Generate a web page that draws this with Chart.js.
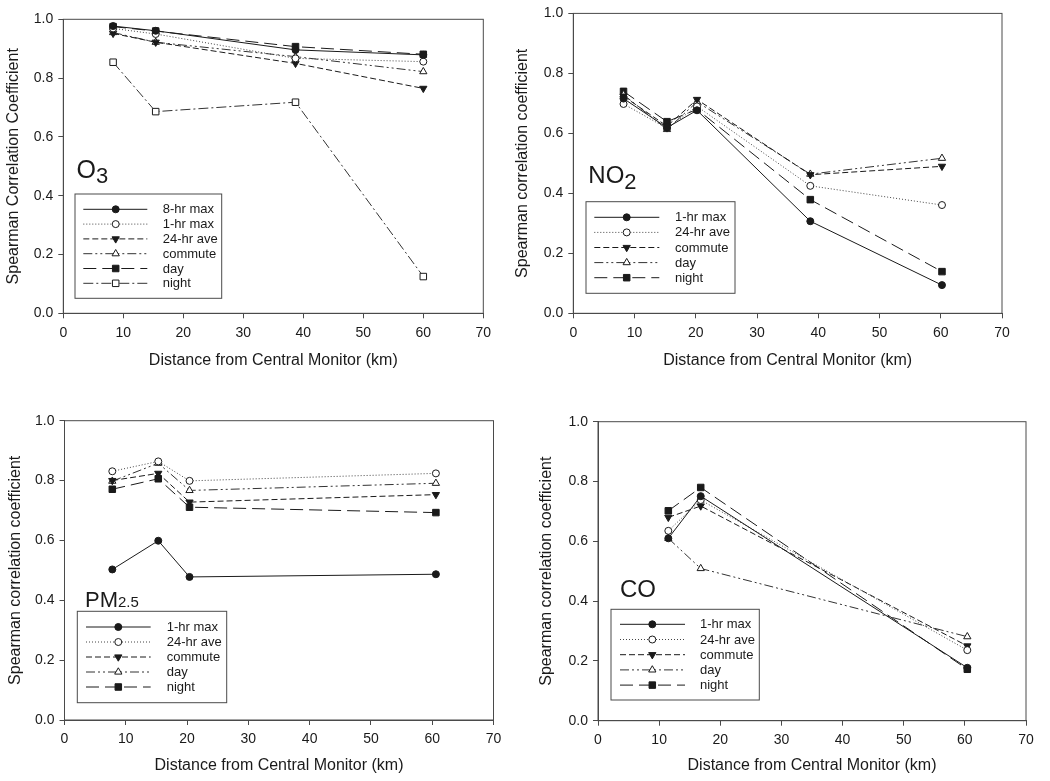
<!DOCTYPE html>
<html>
<head>
<meta charset="utf-8">
<title>Spearman correlation vs distance</title>
<script src="https://cdn.jsdelivr.net/npm/chart.js@4.4.1/dist/chart.umd.min.js"></script>
<style>
    body { margin: 0; background: #fff; width: 1050px; height: 781px; position: relative; overflow: hidden; }
    canvas { position: absolute; }
</style>
</head>
<body>
<canvas id="o3Chart" width="525" height="390" style="left:0;top:0;width:525px;height:390px"></canvas>
<canvas id="no2Chart" width="550" height="390" style="left:500px;top:0;width:550px;height:390px"></canvas>
<canvas id="pmChart" width="525" height="391" style="left:0;top:390px;width:525px;height:391px"></canvas>
<canvas id="coChart" width="550" height="391" style="left:500px;top:390px;width:550px;height:391px"></canvas>
<script>
// --- data (distance in km, Spearman r) ---
const o3Distance = [8.3, 15.4, 38.7, 60.0];
const o3Max8h    = [0.977, 0.961, 0.896, 0.879];
const o3Max1h    = [0.969, 0.950, 0.867, 0.856];
const o3Ave24h   = [0.952, 0.922, 0.850, 0.765];
const o3Commute  = [0.955, 0.922, 0.873, 0.822];
const o3Day      = [0.975, 0.960, 0.907, 0.881];
const o3Night    = [0.854, 0.686, 0.718, 0.125];

const no2Distance = [8.2, 15.3, 20.2, 38.7, 60.2];
const no2Max1h    = [0.716, 0.619, 0.677, 0.307, 0.094];
const no2Ave24h   = [0.698, 0.617, 0.690, 0.425, 0.361];
const no2Commute  = [0.724, 0.624, 0.713, 0.462, 0.490];
const no2Day      = [0.729, 0.613, 0.705, 0.464, 0.517];
const no2Night    = [0.740, 0.639, 0.680, 0.379, 0.139];

const pmDistance = [7.8, 15.3, 20.4, 60.6];
const pmMax1h    = [0.503, 0.599, 0.478, 0.487];
const pmAve24h   = [0.831, 0.864, 0.799, 0.824];
const pmCommute  = [0.800, 0.824, 0.728, 0.753];
const pmDay      = [0.798, 0.858, 0.767, 0.791];
const pmNight    = [0.771, 0.806, 0.711, 0.693];

const coDistance = [11.5, 16.8, 60.4];
const coMax1h    = [0.610, 0.751, 0.177];
const coAve24h   = [0.635, 0.738, 0.236];
const coCommute  = [0.680, 0.718, 0.250];
const coDay      = [0.610, 0.509, 0.281];
const coNight    = [0.702, 0.780, 0.172];

const xTicks = [0, 10, 20, 30, 40, 50, 60, 70];
const yTicks = [0.0, 0.2, 0.4, 0.6, 0.8, 1.0];

const INK = '#1a1a1a';
const FRAME = '#4a4a4a';
const FONT = "'Liberation Sans', Arial, sans-serif";

Chart.defaults.font.family = FONT;
Chart.defaults.color = INK;

// line + marker styles used in the figure
const styles = {
    solidDot:    { dash: [],                  point: 'circle',   rot: 0,   filled: true,  r: 3.5, color: INK },
    dottedRing:  { dash: [1, 2],              point: 'circle',   rot: 0,   filled: false, r: 3.5, color: '#444' },
    dashDown:    { dash: [6, 3],              point: 'triangle', rot: 180, filled: true,  r: 4.2, color: INK },
    dashDotDot:  { dash: [9, 3, 2, 3, 2, 3],  point: 'triangle', rot: 0,   filled: false, r: 4.2, color: '#333' },
    longDashSq:  { dash: [13, 6],             point: 'rect',     rot: 0,   filled: true,  r: 4.6, color: INK },
    dashDotSq:   { dash: [10, 3, 2, 3],       point: 'rect',     rot: 0,   filled: false, r: 4.6, color: '#333' }
};

function drawMarker(ctx, st, x, y) {
    ctx.save();
    ctx.setLineDash([]);
    ctx.lineWidth = 1;
    ctx.strokeStyle = INK;
    ctx.fillStyle = st.filled ? INK : '#fff';
    ctx.beginPath();
    if (st.point === 'circle') {
        ctx.arc(x, y, st.r, 0, Math.PI * 2);
    } else if (st.point === 'rect') {
        const s = st.r * Math.SQRT1_2;
        ctx.rect(x - s, y - s, 2 * s, 2 * s);
    } else {
        let a = st.rot * Math.PI / 180;
        ctx.moveTo(x + Math.sin(a) * st.r, y - Math.cos(a) * st.r);
        for (let k = 0; k < 2; k++) {
            a += Math.PI * 2 / 3;
            ctx.lineTo(x + Math.sin(a) * st.r, y - Math.cos(a) * st.r);
        }
        ctx.closePath();
    }
    ctx.fill();
    ctx.stroke();
    ctx.restore();
}

function makeDataset(label, xs, ys, st) {
    return {
        label: label,
        data: xs.map((x, i) => ({ x: x, y: ys[i] })),
        borderColor: st.color,
        borderWidth: 1,
        borderDash: st.dash,
        pointStyle: st.point,
        pointRotation: st.rot,
        pointRadius: st.r,
        pointBorderWidth: 1,
        pointBorderColor: INK,
        pointBackgroundColor: st.filled ? INK : '#fff',
        tension: 0,
        fill: false,
        _st: st
    };
}

function makePanel(p) {
    const ctx = document.getElementById(p.id);
    const datasets = p.series.map(s => makeDataset(s[0], p.xs, s[1], s[2]));

    const decorations = {
        id: 'decor_' + p.id,
        afterDatasetsDraw(chart) {
            const c = chart.ctx;
            const a = chart.chartArea;
            // frame
            c.save();
            c.strokeStyle = FRAME;
            c.lineWidth = 1;
            c.strokeRect(a.left, a.top, a.right - a.left, a.bottom - a.top);

            // pollutant name
            let nx = p.nameAt[0];
            c.fillStyle = INK;
            c.textBaseline = 'alphabetic';
            p.name.forEach(part => {
                c.font = part[1] + 'px ' + FONT;
                c.fillText(part[0], nx, p.nameAt[1] + part[2]);
                nx += c.measureText(part[0]).width;
            });

            // legend box
            const L = p.legend;
            c.fillStyle = '#fff';
            c.fillRect(L.box[0], L.box[1], L.box[2] - L.box[0], L.box[3] - L.box[1]);
            c.strokeStyle = FRAME;
            c.strokeRect(L.box[0], L.box[1], L.box[2] - L.box[0], L.box[3] - L.box[1]);
            c.font = '13px ' + FONT;
            c.textBaseline = 'middle';
            chart.data.datasets.forEach((ds, i) => {
                const y = L.row0 + i * L.step;
                const st = ds._st;
                c.save();
                c.strokeStyle = st.color;
                c.lineWidth = 1;
                c.setLineDash(st.dash);
                c.beginPath();
                c.moveTo(L.sample[0], y);
                c.lineTo(L.sample[1], y);
                c.stroke();
                c.restore();
                drawMarker(c, st, L.marker, y);
                c.fillStyle = INK;
                c.fillText(ds.label, L.text, y + 0.5);
            });
            c.restore();
        }
    };

    new Chart(ctx, {
        type: 'line',
        data: { datasets: datasets },
        options: {
            responsive: false,
            animation: false,
            events: [],
            layout: {
                padding: { left: 0, top: p.area.t, right: p.w - p.area.r, bottom: 0 }
            },
            plugins: {
                legend: { display: false },
                tooltip: { enabled: false }
            },
            scales: {
                x: {
                    type: 'linear',
                    min: xTicks[0],
                    max: xTicks[xTicks.length - 1],
                    afterBuildTicks: s => { s.ticks = xTicks.map(v => ({ value: v })); },
                    afterFit: s => { s.height = p.h - p.area.b; },
                    grid: { drawOnChartArea: false, drawTicks: true, tickLength: 5, color: FRAME },
                    border: { display: true, color: FRAME },
                    ticks: { padding: 6, font: { size: 14 }, color: INK, maxRotation: 0 },
                    title: {
                        display: true,
                        text: 'Distance from Central Monitor (km)',
                        font: { size: 16 },
                        color: INK,
                        padding: { top: 0, bottom: (p.h - p.xTitleY) - 9.6 }
                    }
                },
                y: {
                    type: 'linear',
                    min: yTicks[0],
                    max: yTicks[yTicks.length - 1],
                    afterBuildTicks: s => { s.ticks = yTicks.map(v => ({ value: v })); },
                    afterFit: s => { s.width = p.area.l; },
                    grid: { drawOnChartArea: false, drawTicks: true, tickLength: 5, color: FRAME },
                    border: { display: true, color: FRAME },
                    ticks: { padding: 5, font: { size: 14 }, color: INK, callback: v => v.toFixed(1) },
                    title: {
                        display: true,
                        text: p.yTitle,
                        font: { size: 16 },
                        color: INK,
                        padding: { top: p.yTitleX - 9.6, bottom: 0 }
                    }
                }
            }
        },
        plugins: [decorations]
    });
}

document.addEventListener("DOMContentLoaded", () => {
    makePanel({
        id: 'o3Chart', w: 525, h: 390,
        area: { l: 63.3, t: 19.3, r: 483.3, b: 313.3 },
        xs: o3Distance,
        series: [
            ['8-hr max', o3Max8h, styles.solidDot],
            ['1-hr max', o3Max1h, styles.dottedRing],
            ['24-hr ave', o3Ave24h, styles.dashDown],
            ['commute', o3Commute, styles.dashDotDot],
            ['day', o3Day, styles.longDashSq],
            ['night', o3Night, styles.dashDotSq]
        ],
        yTitle: 'Spearman Correlation Coefficient', yTitleX: 13.5, xTitleY: 361,
        name: [['O', 25, 0], ['3', 22, 4.5]], nameAt: [76.5, 178.3],
        legend: { box: [75, 194, 221.7, 298.3], row0: 209.3, step: 14.8, sample: [83.3, 147.3], marker: 115.7, text: 162.7 }
    });

    makePanel({
        id: 'no2Chart', w: 550, h: 390,
        area: { l: 73.3, t: 12.3, r: 502, b: 313.3 },
        xs: no2Distance,
        series: [
            ['1-hr max', no2Max1h, styles.solidDot],
            ['24-hr ave', no2Ave24h, styles.dottedRing],
            ['commute', no2Commute, styles.dashDown],
            ['day', no2Day, styles.dashDotDot],
            ['night', no2Night, styles.longDashSq]
        ],
        yTitle: 'Spearman correlation coefficient', yTitleX: 23, xTitleY: 361,
        name: [['NO', 24, 0], ['2', 22, 6]], nameAt: [88.3, 183.3],
        legend: { box: [86, 201.7, 235, 293.3], row0: 217.3, step: 15.1, sample: [94.3, 159.3], marker: 126.7, text: 175 }
    });

    makePanel({
        id: 'pmChart', w: 525, h: 391,
        area: { l: 64.5, t: 30.7, r: 493.5, b: 330 },
        xs: pmDistance,
        series: [
            ['1-hr max', pmMax1h, styles.solidDot],
            ['24-hr ave', pmAve24h, styles.dottedRing],
            ['commute', pmCommute, styles.dashDown],
            ['day', pmDay, styles.dashDotDot],
            ['night', pmNight, styles.longDashSq]
        ],
        yTitle: 'Spearman correlation coefficient', yTitleX: 16, xTitleY: 376,
        name: [['PM', 22, 0], ['2.5', 15, 0.5]], nameAt: [85, 216.7],
        legend: { box: [77.3, 221.3, 226.7, 312.7], row0: 237, step: 15, sample: [86, 150.7], marker: 118.3, text: 166.7 }
    });

    makePanel({
        id: 'coChart', w: 550, h: 391,
        area: { l: 98, t: 31.7, r: 526, b: 330.7 },
        xs: coDistance,
        series: [
            ['1-hr max', coMax1h, styles.solidDot],
            ['24-hr ave', coAve24h, styles.dottedRing],
            ['commute', coCommute, styles.dashDown],
            ['day', coDay, styles.dashDotDot],
            ['night', coNight, styles.longDashSq]
        ],
        yTitle: 'Spearman correlation coefficient', yTitleX: 47, xTitleY: 376,
        name: [['CO', 24, 0]], nameAt: [120, 206.7],
        legend: { box: [111, 219.3, 259.3, 310], row0: 234.3, step: 15.2, sample: [120, 185], marker: 152.3, text: 200 }
    });
});
</script>
</body>
</html>
